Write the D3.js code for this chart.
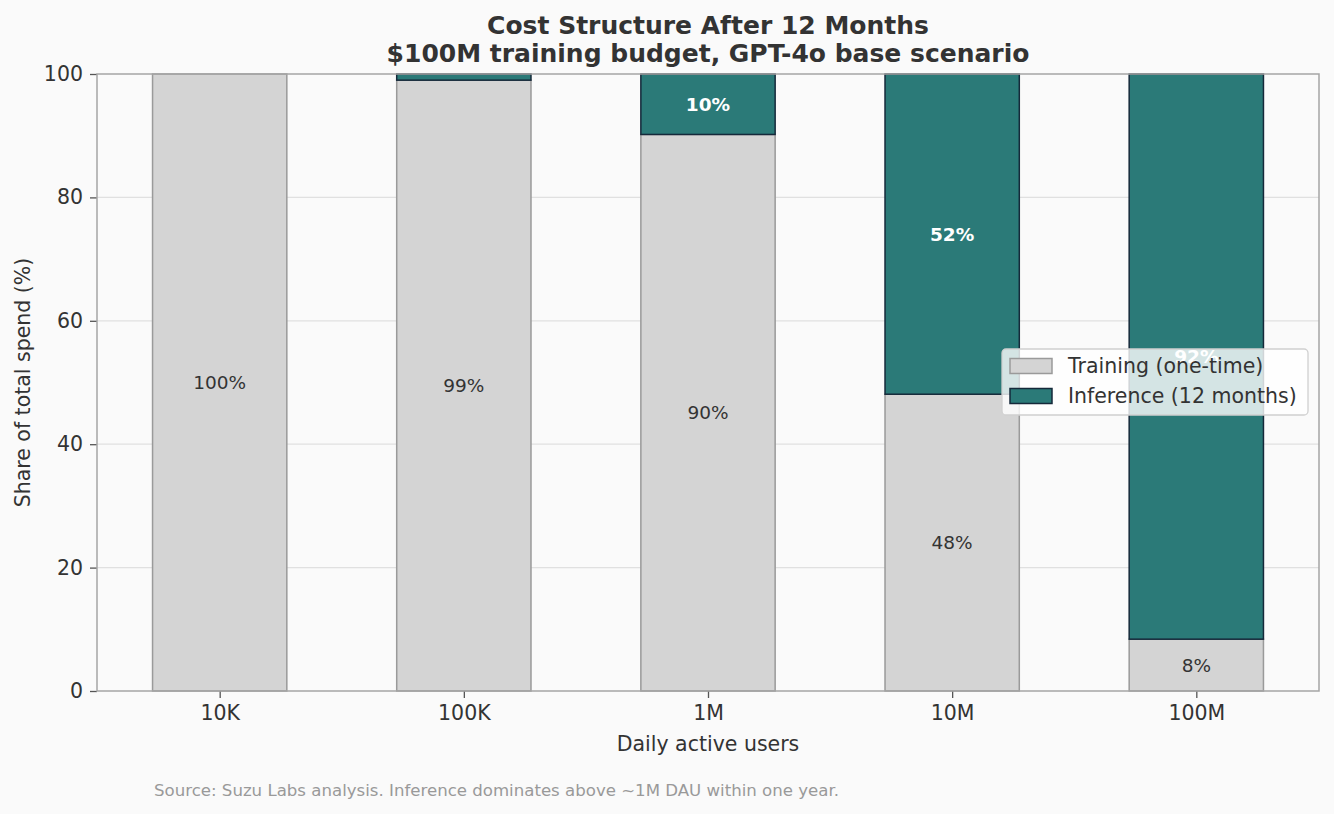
<!DOCTYPE html>
<html>
<head>
<meta charset="utf-8">
<script src="https://cdn.jsdelivr.net/npm/d3@7"></script>
<style>
  body { margin:0; background:#fafafa; }
  text { font-family: "DejaVu Sans", sans-serif; }
</style>
</head>
<body>
<div class="canvas"></div>
<script>
// data
const categories = ['10K', '100K', '1M', '10M', '100M']
const trainingShare = [100, 99.0, 90.2, 48.1, 8.4]
const inferenceShare = [0, 1.0, 9.8, 51.9, 91.6]
const yTicks = [0, 20, 40, 60, 80, 100]
const seriesNames = ['Training (one-time)', 'Inference (12 months)']

const width = 1334
const height = 814
const margin = { top: 74, right: 15, bottom: 123, left: 97 }
const graphWidth = width - margin.left - margin.right
const graphHeight = height - margin.top - margin.bottom

const trainFill = '#d4d4d4', trainStroke = '#9a9a9a'
const infFill = '#2b7a78', infStroke = '#15293a'

const svg = d3.select('.canvas').append('svg').attr('width', width).attr('height', height)
svg.append('rect').attr('width', width).attr('height', height).attr('fill', '#fafafa')

const graph = svg.append('g').attr('transform', `translate(${margin.left},${margin.top})`)

// scales
const x = d3.scaleLinear().domain([-0.5025, 4.5025]).range([0, graphWidth])
const y = d3.scaleLinear().domain([0, 100]).range([graphHeight, 0])
const barW = x(0.55) - x(0)

// grid
graph.append('g').selectAll('line').data(yTicks.slice(1, -1)).enter().append('line')
  .attr('x1', 0).attr('x2', graphWidth)
  .attr('y1', d => y(d)).attr('y2', d => y(d))
  .attr('stroke', '#e0e0e0').attr('stroke-width', 1.2)

const rows = categories.map((c, i) => ({ c, i, t: trainingShare[i], f: inferenceShare[i] }))

// training bars
graph.selectAll('rect.train').data(rows).enter().append('rect').attr('class', 'train')
  .attr('x', d => x(d.i) - barW / 2).attr('width', barW)
  .attr('y', d => y(d.t)).attr('height', d => y(0) - y(d.t))
  .attr('fill', trainFill).attr('stroke', trainStroke).attr('stroke-width', 1.5)

// inference bars
graph.selectAll('rect.inf').data(rows.filter(d => d.f > 0)).enter().append('rect').attr('class', 'inf')
  .attr('x', d => x(d.i) - barW / 2).attr('width', barW)
  .attr('y', d => y(d.t + d.f)).attr('height', d => y(d.t) - y(d.t + d.f))
  .attr('fill', infFill).attr('stroke', infStroke).attr('stroke-width', 1.5)

// labels
graph.selectAll('text.tl').data(rows.filter(d => d.t >= 5)).enter().append('text')
  .attr('x', d => x(d.i)).attr('y', d => y(d.t / 2)).attr('dy', '0.35em')
  .attr('text-anchor', 'middle').attr('font-size', 18.5).attr('fill', '#333')
  .text(d => Math.round(d.t) + '%')

graph.selectAll('text.il').data(rows.filter(d => d.f >= 5)).enter().append('text')
  .attr('x', d => x(d.i)).attr('y', d => y(d.t + d.f / 2)).attr('dy', '0.35em')
  .attr('text-anchor', 'middle').attr('font-size', 18.5).attr('font-weight', 'bold').attr('fill', '#fff')
  .text(d => Math.round(d.f) + '%')

// axes
const xAxis = d3.axisBottom(x).tickValues(d3.range(categories.length)).tickFormat(i => categories[i])
  .tickSizeInner(7).tickSizeOuter(0).tickPadding(7)
const yAxis = d3.axisLeft(y).tickValues(yTicks).tickSizeInner(7).tickSizeOuter(0).tickPadding(7)

const xAxisGroup = graph.append('g').attr('transform', `translate(0,${graphHeight})`).call(xAxis)
const yAxisGroup = graph.append('g').call(yAxis)
;[xAxisGroup, yAxisGroup].forEach(g => {
  g.select('.domain').remove()
  g.selectAll('line').attr('stroke', '#555').attr('stroke-width', 1.3)
  g.selectAll('text').attr('font-size', 20.5).attr('fill', '#333').attr('font-family', '"DejaVu Sans", sans-serif')
})

// frame
graph.append('rect').attr('width', graphWidth).attr('height', graphHeight)
  .attr('fill', 'none').attr('stroke', '#a5a5a5').attr('stroke-width', 1.5)

// legend (drawn over the bars, as in the original)
const legend = svg.append('g').attr('transform', 'translate(1002,349)')
legend.append('rect').attr('width', 306).attr('height', 66).attr('rx', 4)
  .attr('fill', '#fff').attr('fill-opacity', 0.8).attr('stroke', '#d0d0d0').attr('stroke-width', 1.3)
const items = legend.selectAll('g.item').data(seriesNames).enter().append('g')
  .attr('transform', (d, i) => `translate(8,${17 + i * 30})`)
items.append('rect').attr('x', 0).attr('y', -7.5).attr('width', 42).attr('height', 15)
  .attr('fill', (d, i) => i ? infFill : trainFill).attr('stroke', (d, i) => i ? infStroke : trainStroke).attr('stroke-width', 1.5)
items.append('text').attr('x', 58).attr('dy', '0.35em').attr('font-size', 20.5).attr('fill', '#333').text(d => d)

// titles
svg.append('text').attr('x', margin.left + graphWidth / 2).attr('y', 34).attr('text-anchor', 'middle')
  .attr('font-size', 25).attr('font-weight', 'bold').attr('fill', '#333').text('Cost Structure After 12 Months')
svg.append('text').attr('x', margin.left + graphWidth / 2).attr('y', 62).attr('text-anchor', 'middle')
  .attr('font-size', 25).attr('font-weight', 'bold').attr('fill', '#333').text('$100M training budget, GPT-4o base scenario')

svg.append('text').attr('x', margin.left + graphWidth / 2).attr('y', 751).attr('text-anchor', 'middle')
  .attr('font-size', 20.5).attr('fill', '#333').text('Daily active users')
svg.append('text').attr('transform', `translate(30,${margin.top + graphHeight / 2}) rotate(-90)`)
  .attr('text-anchor', 'middle').attr('font-size', 20.5).attr('fill', '#333').text('Share of total spend (%)')

svg.append('text').attr('x', 154).attr('y', 796)
  .attr('font-size', 16.6).attr('fill', '#999').text('Source: Suzu Labs analysis. Inference dominates above ~1M DAU within one year.')
</script>
</body>
</html>
